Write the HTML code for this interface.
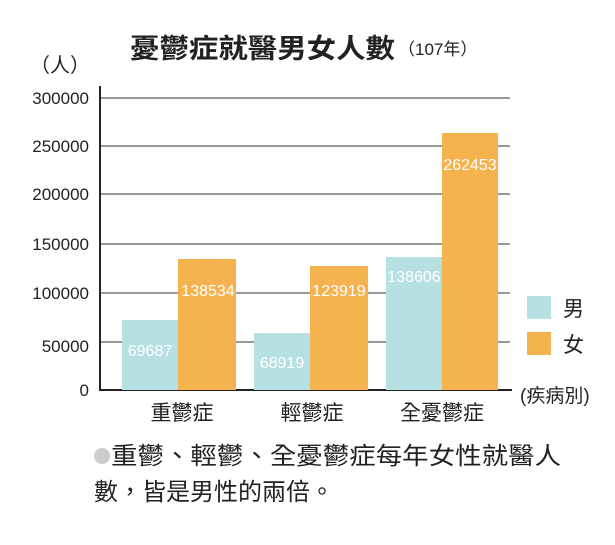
<!DOCTYPE html>
<html><head><meta charset="utf-8"><style>
body{margin:0;background:#fff;}
svg text{font-family:"Liberation Sans","Noto Sans CJK TC",sans-serif;}
</style></head><body>
<svg width="615" height="540" viewBox="0 0 615 540" xmlns="http://www.w3.org/2000/svg">
<rect width="615" height="540" fill="#fff"/>
<text x="130" y="58" font-size="27" font-weight="bold" fill="#222" textLength="265" lengthAdjust="spacingAndGlyphs">憂鬱症就醫男女人數</text>
<text x="398" y="55" font-size="17" fill="#222">（107年）</text>
<text x="30" y="72" font-size="20" fill="#222">（人）</text>
<g stroke="#333" stroke-width="1">
<line x1="100" y1="98" x2="510" y2="98"/>
<line x1="100" y1="146" x2="510" y2="146"/>
<line x1="100" y1="194" x2="510" y2="194"/>
<line x1="100" y1="244" x2="510" y2="244"/>
<line x1="100" y1="293" x2="510" y2="293"/>
<line x1="100" y1="342" x2="510" y2="342"/>
</g>
<line x1="100" y1="86" x2="100" y2="391" stroke="#222" stroke-width="2"/>
<line x1="99" y1="390" x2="512" y2="390" stroke="#222" stroke-width="2"/>
<g font-size="17" fill="#222" text-anchor="end">
<text x="89" y="104">300000</text>
<text x="89" y="152">250000</text>
<text x="89" y="200">200000</text>
<text x="89" y="250">150000</text>
<text x="89" y="299">100000</text>
<text x="89" y="352">50000</text>
<text x="89" y="396">0</text>
</g>
<g>
<rect x="122" y="320" width="56" height="70" fill="#b6e0e2"/>
<rect x="178" y="259" width="58" height="131" fill="#f5b350"/>
<rect x="254" y="333" width="56" height="57" fill="#b6e0e2"/>
<rect x="310" y="266" width="58" height="124" fill="#f5b350"/>
<rect x="386" y="257" width="56" height="133" fill="#b6e0e2"/>
<rect x="442" y="133" width="56" height="257" fill="#f5b350"/>
</g>
<g font-size="16" fill="#fff" text-anchor="middle">
<text x="150" y="356">69687</text>
<text x="208" y="296">138534</text>
<text x="282" y="368">68919</text>
<text x="339" y="296">123919</text>
<text x="414" y="282">138606</text>
<text x="470" y="170">262453</text>
</g>
<g font-size="21" fill="#222" text-anchor="middle">
<text x="182" y="420">重鬱症</text>
<text x="312" y="420">輕鬱症</text>
<text x="442" y="420">全憂鬱症</text>
</g>
<text x="520" y="402" font-size="19" fill="#222">(疾病別)</text>
<rect x="527" y="296" width="24" height="23" fill="#b6e0e2"/>
<rect x="527" y="332" width="24" height="23" fill="#f5b350"/>
<text x="563" y="316" font-size="21" fill="#222">男</text>
<text x="563" y="352" font-size="21" fill="#222">女</text>
<circle cx="102" cy="456" r="8" fill="#ccc"/>
<text x="111" y="464" font-size="24" fill="#222" textLength="450" lengthAdjust="spacingAndGlyphs">重鬱、輕鬱、全憂鬱症每年女性就醫人</text>
<text x="94" y="500" font-size="24" fill="#222">數，皆是男性的兩倍。</text>
</svg>
</body></html>
